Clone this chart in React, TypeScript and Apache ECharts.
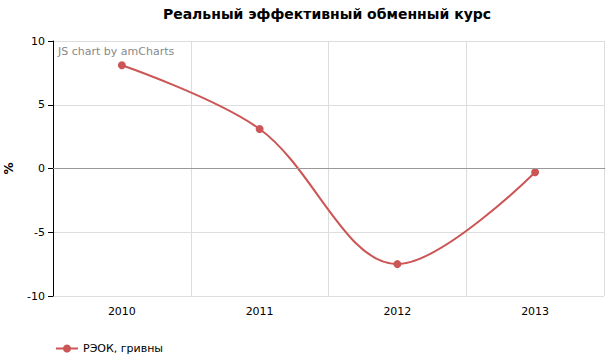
import React, { useEffect, useRef } from "react";
import * as echarts from "echarts";

const categories = ["2010", "2011", "2012", "2013"];
const values = [8.1, 3.1, -7.5, -0.3];
const seriesName = "РЭОК, гривны";
const titleText = "Реальный эффективный обменный курс";
const yTicks = { min: -10, max: 10, interval: 5 };

export default function App() {
  const ref = useRef<HTMLDivElement>(null);
  useEffect(() => {
    document.body.style.margin = "0";
    const chart = echarts.init(ref.current!, undefined, { renderer: "svg" });
    const font = "DejaVu Sans, Verdana, sans-serif";
    chart.setOption({
      animation: false,
      textStyle: { fontFamily: font },
      title: {
        text: titleText,
        left: 322,
        textAlign: "center",
        top: 2,
        textStyle: { fontSize: 14, fontWeight: "bold", color: "#000", fontFamily: font },
      },
      legend: {
        left: 50,
        bottom: 3,
        itemWidth: 22,
        itemHeight: 10,
        textStyle: { fontSize: 11, color: "#000", fontFamily: font },
        data: [seriesName],
      },
      graphic: [
        {
          type: "text",
          left: 58,
          top: 46,
          z: 100,
          style: { text: "JS chart by amCharts", fontSize: 11, fill: "#888", fontFamily: font },
        },
      ],
      grid: { left: 53, right: 6, top: 41, bottom: 66, outerBoundsMode: "none", containLabel: false },
      xAxis: {
        type: "category",
        data: categories,
        boundaryGap: true,
        axisLine: { lineStyle: { color: "#000", width: 1 } },
        axisTick: { alignWithLabel: true, length: 5, lineStyle: { color: "#000" } },
        axisLabel: { fontSize: 11, color: "#000", margin: 10, fontFamily: font },
        splitLine: { show: true, lineStyle: { color: "#ddd" } },
      },
      yAxis: {
        type: "value",
        min: yTicks.min,
        max: yTicks.max,
        interval: yTicks.interval,
        name: "%",
        nameLocation: "middle",
        nameGap: 38,
        nameTextStyle: { fontSize: 12, fontWeight: "bold", color: "#000", fontFamily: font },
        axisLine: { show: true, lineStyle: { color: "#000", width: 1 } },
        axisTick: { show: true, length: 5, lineStyle: { color: "#000" } },
        axisLabel: { fontSize: 11, color: "#000", margin: 8, fontFamily: font },
        splitLine: { show: true, lineStyle: { color: "#ddd" } },
      },
      series: [
        {
          name: seriesName,
          type: "line",
          data: values,
          smooth: 0.35,
          symbol: "circle",
          symbolSize: 8,
          itemStyle: { color: "#cc5555" },
          lineStyle: { color: "#cc5555", width: 2 },
          markLine: {
            silent: true,
            symbol: "none",
            label: { show: false },
            lineStyle: { color: "#999", type: "solid", width: 1 },
            data: [{ yAxis: 0 }],
          },
        },
      ],
    });
    return () => chart.dispose();
  }, []);
  return <div ref={ref} style={{ width: 610, height: 362 }} />;
}
